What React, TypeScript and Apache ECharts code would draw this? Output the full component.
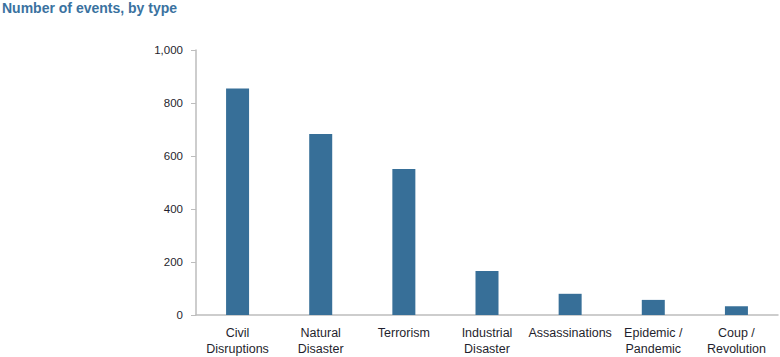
import React, { useEffect, useRef } from "react";
import * as echarts from "echarts";

const categories = [
  "Civil\nDisruptions",
  "Natural\nDisaster",
  "Terrorism",
  "Industrial\nDisaster",
  "Assassinations",
  "Epidemic /\nPandemic",
  "Coup /\nRevolution",
];
const values = [855, 683, 551, 166, 80, 57, 33];
const yTicks = { min: 0, max: 1000, interval: 200 };
const title = "Number of events, by type";

const FONT = "'Liberation Sans', Arial, sans-serif";

export default function App() {
  const ref = useRef<HTMLDivElement>(null);
  useEffect(() => {
    if (!ref.current) return;
    const chart = echarts.init(ref.current, undefined, { renderer: "svg" });
    chart.setOption({
      animation: false,
      title: {
        text: title,
        left: 2,
        top: 1,
        padding: 0,
        textStyle: { fontFamily: FONT, fontSize: 14, fontWeight: "bold", color: "#3a72a0" },
      },
      grid: { left: 196, right: 2, top: 50, bottom: 42 },
      xAxis: {
        type: "category",
        data: categories,
        axisLine: { lineStyle: { color: "#bdbdbd", width: 1.5 } },
        axisTick: { show: false },
        axisLabel: {
          color: "#1f1f2e",
          fontFamily: FONT,
          fontSize: 12.5,
          lineHeight: 16,
          margin: 10,
          interval: 0,
        },
      },
      yAxis: {
        type: "value",
        min: yTicks.min,
        max: yTicks.max,
        interval: yTicks.interval,
        axisLine: { show: true, lineStyle: { color: "#bdbdbd", width: 1.5 } },
        axisTick: { show: true, inside: false, length: 5, lineStyle: { color: "#bdbdbd" } },
        splitLine: { show: false },
        axisLabel: {
          color: "#1f1f2e",
          fontFamily: FONT,
          fontSize: 11.5,
          margin: 13,
          formatter: (v: number) => v.toLocaleString("en-US"),
        },
      },
      series: [
        {
          type: "bar",
          data: values,
          barWidth: 23,
          itemStyle: { color: "#376f98" },
        },
      ],
    });
    return () => chart.dispose();
  }, []);
  return (
    <div
      ref={ref}
      style={{ position: "absolute", left: 0, top: 0, width: 780, height: 357 }}
    />
  );
}
